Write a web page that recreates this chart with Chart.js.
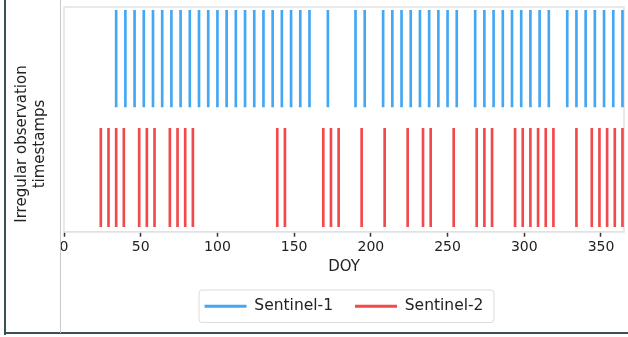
<!DOCTYPE html>
<html>
<head>
<meta charset="utf-8">
<script src="https://cdn.jsdelivr.net/npm/chart.js@4.4.1/dist/chart.umd.min.js"></script>
<style>
  html, body { margin: 0; padding: 0; background: #fff; }
  #wrap { position: relative; width: 628px; height: 337px; overflow: hidden; }
  #wrap canvas { position: absolute; left: 0; top: 0; }
  .frameL { position: absolute; left: 4px; top: 0; width: 2px; height: 335px; background: #3e4f5a; }
  .frameB { position: absolute; left: 4px; top: 332px; width: 624px; height: 2px; background: #3e4f5a; }
  .divider { position: absolute; left: 60px; top: 0; width: 1px; height: 333px; background: #c8c8c8; }
</style>
</head>
<body>
<div id="wrap">
  <canvas id="chart" width="628" height="337"></canvas>
  <div class="frameL"></div>
  <div class="frameB"></div>
  <div class="divider"></div>
</div>
<script>
// Day-of-year of each acquisition
const s1Doy = [34, 40, 46, 52, 58, 64, 70, 76, 82, 88, 94, 100, 106, 112, 118, 124, 130, 136,
  142, 148, 154, 160, 172, 190, 196, 208, 214, 220, 226, 232, 238, 244, 250, 256,
  268, 274, 280, 286, 292, 298, 304, 310, 316, 328, 334, 340, 346, 352, 358, 364];
const s2Doy = [24, 29, 34, 39, 49, 54, 59, 69, 74, 79, 84, 139, 144, 169, 174, 179, 194,
  209, 224, 234, 239, 254, 269, 274, 279, 294, 299, 304, 309, 314, 319, 334,
  344, 349, 354, 359, 364];
const seriesNames = ["Sentinel-1", "Sentinel-2"];
// vertical extent of each event row (y axis runs 0..1)
const s1Span = [0.555, 0.985];
const s2Span = [0.022, 0.46];
const xTicks = [0, 50, 100, 150, 200, 250, 300, 350];
const yTitle = ["Irregular observation", "timestamps"];

const FONT = "'DejaVu Sans', sans-serif";
const BLUE = "#45a7f2";
const RED = "#f2494b";

const toEvents = (days, span) => days.map(d => ({ x: d, y: span }));

// light box round the plot area, the y title and a frame round the legend
const boxPlugin = {
  id: "boxes",
  beforeDatasetsDraw(chart) {
    const { ctx, chartArea: a } = chart;
    ctx.save();
    ctx.strokeStyle = "#e2e2e2";
    ctx.lineWidth = 1.5;
    ctx.strokeRect(a.left, a.top, a.right - a.left, a.bottom - a.top);
    ctx.restore();
  },
  afterDraw(chart) {
    const ctx = chart.ctx;
    // y title, centred a bit lower than the plot like the original figure
    ctx.save();
    ctx.translate(31, 144);
    ctx.rotate(-Math.PI / 2);
    ctx.fillStyle = "#222";
    ctx.font = "15px " + FONT;
    ctx.textAlign = "center";
    ctx.textBaseline = "middle";
    ctx.fillText(yTitle[0], 0, -9);
    ctx.fillText(yTitle[1], 0, 9);
    ctx.restore();

    const boxes = chart.legend.legendHitBoxes;
    if (!boxes || !boxes.length) return;
    const left = Math.min(...boxes.map(b => b.left)) - 6;
    const right = Math.max(...boxes.map(b => b.left + b.width)) + 10;
    const top = Math.min(...boxes.map(b => b.top)) - 9;
    const bottom = Math.max(...boxes.map(b => b.top + b.height)) + 8;
    ctx.save();
    ctx.strokeStyle = "#dcdcdc";
    ctx.lineWidth = 1;
    ctx.beginPath();
    ctx.roundRect(left + 0.5, top + 0.5, right - left, bottom - top, 3);
    ctx.stroke();
    ctx.restore();
  }
};

new Chart(document.getElementById("chart"), {
  type: "bar",
  data: {
    datasets: [
      { label: seriesNames[0], data: toEvents(s1Doy, s1Span), backgroundColor: BLUE, borderColor: BLUE },
      { label: seriesNames[1], data: toEvents(s2Doy, s2Span), backgroundColor: RED, borderColor: RED }
    ]
  },
  options: {
    responsive: false,
    animation: false,
    grouped: false,
    barThickness: 2,
    layout: { padding: { left: 64, right: 4, top: 7, bottom: 13 } },
    scales: {
      x: {
        type: "linear",
        offset: false,
        min: 0,
        max: 365,
        afterBuildTicks: s => { s.ticks = xTicks.map(v => ({ value: v })); },
        grid: { offset: false, drawOnChartArea: false, tickLength: 5, tickColor: "#333", tickWidth: 1.5 },
        border: { color: "#e2e2e2", width: 1.5 },
        ticks: { color: "#222", font: { family: FONT, size: 14 }, padding: 2, maxRotation: 0 },
        title: { display: true, text: "DOY", color: "#222", font: { family: FONT, size: 15 }, padding: { top: 1, bottom: 0 } }
      },
      y: {
        display: false,
        min: 0,
        max: 1
      }
    },
    plugins: {
      tooltip: { enabled: false },
      legend: {
        position: "bottom",
        labels: {
          color: "#222",
          font: { family: FONT, size: 15.5 },
          usePointStyle: true,
          pointStyleWidth: 42,
          padding: 22,
          generateLabels: chart => chart.data.datasets.map((ds, i) => ({
            text: ds.label,
            datasetIndex: i,
            pointStyle: "line",
            strokeStyle: ds.borderColor,
            fillStyle: ds.borderColor,
            lineWidth: 3,
            fontColor: "#222"
          }))
        }
      }
    }
  },
  plugins: [boxPlugin]
});
</script>
</body>
</html>
